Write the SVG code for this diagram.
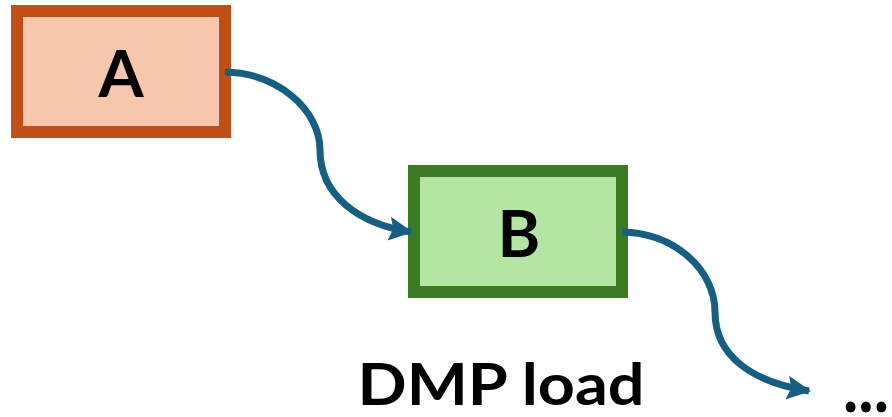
<svg xmlns="http://www.w3.org/2000/svg" width="892" height="417" viewBox="0 0 892 417">
<defs>
<style>
.lbl{font-family:Lato,"Open Sans","Liberation Sans",sans-serif;font-weight:bold;fill:#000;}
.node-text{font-size:65px;text-anchor:middle;}
.conn{fill:none;stroke:#156082;stroke-width:7;}
</style>
<marker id="arr" markerUnits="userSpaceOnUse" viewBox="0 0 24 24" refX="22" refY="12" markerWidth="24" markerHeight="24" orient="auto">
<path d="M0,0 L24,12 L0,24 L4,12 Z" fill="#156082"/>
</marker>
</defs>
<rect width="892" height="417" fill="#fff"/>
<g id="A">
<rect x="17" y="11" width="208" height="121" fill="#F6C6AD" stroke="#C04F15" stroke-width="12"/>
<text class="lbl node-text" x="121" y="97">A</text>
</g>
<g id="B">
<rect x="414" y="171" width="208" height="121" fill="#B4E5A2" stroke="#3A7C22" stroke-width="12"/>
<text class="lbl node-text" x="519" y="257">B</text>
</g>
<g id="connectors">
<path class="conn" d="M225,72 C278,73 320,110 320,150 C320,195 358,224 411,232" marker-end="url(#arr)"/>
<path class="conn" d="M622,232 C675,233 715,270 715,312 C715,356 752,382 809,391" marker-end="url(#arr)"/>
</g>
<text class="lbl" x="501" y="405" font-size="57" text-anchor="middle" textLength="287" lengthAdjust="spacingAndGlyphs">DMP load</text>
<text class="lbl" x="843" y="412" font-size="72" textLength="46" lengthAdjust="spacingAndGlyphs">...</text>
</svg>
